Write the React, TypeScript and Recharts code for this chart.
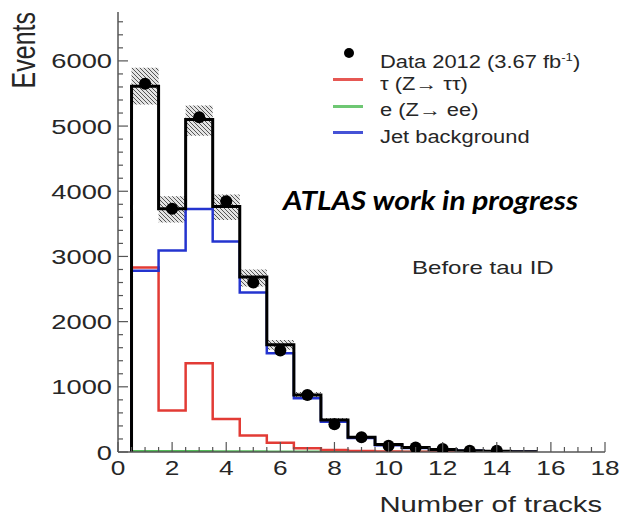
import { ComposedChart, Line, Area, Scatter, XAxis, YAxis, Legend, Label } from 'recharts';

// bins of width 1 centred on 1 … 15, listed by their low edge
const binLow = [0.5, 1.5, 2.5, 3.5, 4.5, 5.5, 6.5, 7.5, 8.5, 9.5, 10.5, 11.5, 12.5, 13.5, 14.5];
const binClose = 15.5;

const totalMC = [5611, 3733, 5100, 3768, 2683, 1644, 875, 490, 228, 115, 68, 40, 20, 10, 4];
const tauZtt = [2831, 635, 1362, 507, 255, 140, 57, 30, 14, 6, 3, 1, 0, 0, 0];
const eZee = [12, 10, 10, 8, 6, 4, 2, 1, 0, 0, 0, 0, 0, 0, 0];
const jetBkg = [2780, 3092, 3728, 3231, 2447, 1516, 825, 465, 215, 105, 62, 38, 19, 9, 4];
const bandLow = [5330, 3520, 4850, 3560, 2540, 1570, 830, 460, 212, 104, 60, 34, 16, 7, 2];
const bandHigh = [5894, 3922, 5315, 3950, 2800, 1720, 920, 520, 245, 126, 76, 46, 24, 13, 6];

// data 2012
const dataX = [1, 2, 3, 4, 5, 6, 7, 8, 9, 10, 11, 12, 13, 14];
const dataY = [5648, 3730, 5135, 3845, 2601, 1556, 876, 425, 228, 97, 70, 45, 20, 18];

const xTicks = Array.from({ length: 37 }, (_, i) => i * 0.5);
const yTicks = Array.from({ length: 34 }, (_, i) => i * 200);

const FONT = '"Liberation Sans", Arial, sans-serif';
const INK = '#262626';
const FRAME = '#555';
const RED = '#e23b35';
const GREEN = '#55bd5a';
const BLUE = '#2434cf';

// histogram rows at bin edges, drawn as steps
const rows = [
  { x: binLow[0], total: 0, tau: 0, e: 0, jet: 0, band: null as number[] | null },
  ...binLow.map((x, i) => ({
    x,
    total: totalMC[i],
    tau: tauZtt[i],
    e: eZee[i],
    jet: jetBkg[i],
    band: [bandLow[i], bandHigh[i]],
  })),
  {
    x: binClose,
    total: totalMC[totalMC.length - 1],
    tau: tauZtt[tauZtt.length - 1],
    e: eZee[eZee.length - 1],
    jet: jetBkg[jetBkg.length - 1],
    band: [bandLow[bandLow.length - 1], bandHigh[bandHigh.length - 1]],
  },
];
const points = dataX.map((x, i) => ({ x, y: dataY[i] }));

const legendItems = [
  { name: 'data', kind: 'dot', color: '#000' },
  { name: 'tau', kind: 'line', color: RED },
  { name: 'e', kind: 'line', color: GREEN },
  { name: 'jet', kind: 'line', color: BLUE },
];
const legendText: Record<string, any> = {
  data: <>Data 2012 (3.67 fb<sup style={{ fontSize: '0.6em' }}>-1</sup>)</>,
  tau: 'τ (Z→ ττ)',
  e: 'e (Z→ ee)',
  jet: 'Jet background',
};

const BottomTick = ({ x, y, payload }: any) => {
  const v = payload.value;
  const major = v % 2 === 0;
  return (
    <g>
      <line x1={x} x2={x} y1={y} y2={y - (major ? 10 : 5)} stroke={FRAME} strokeWidth={1.2} />
      {major && (
        <text transform={`translate(${x},${y + 23}) scale(1.25,1)`} textAnchor="middle" fontSize={21} fill={INK} fontFamily={FONT}>
          {v}
        </text>
      )}
    </g>
  );
};

const TopTick = ({ x, y, payload }: any) => {
  const major = payload.value % 2 === 0;
  return <line x1={x} x2={x} y1={y} y2={y + (major ? 9 : 5)} stroke={FRAME} strokeWidth={1.2} />;
};

const LeftTick = ({ x, y, payload }: any) => {
  const v = payload.value;
  const major = v % 1000 === 0;
  return (
    <g>
      <line x1={x} x2={x + (major ? 10 : 5)} y1={y} y2={y} stroke={FRAME} strokeWidth={1.2} />
      {major && (
        <text transform={`translate(${x - 6},${y + 7.5}) scale(1.3,1)`} textAnchor="end" fontSize={21} fill={INK} fontFamily={FONT}>
          {v}
        </text>
      )}
    </g>
  );
};

const RightTick = ({ x, y, payload }: any) => {
  const major = payload.value % 1000 === 0;
  return <line x1={x} x2={x - (major ? 10 : 5)} y1={y} y2={y} stroke={FRAME} strokeWidth={1.2} />;
};

const EventsLabel = ({ viewBox }: any) => (
  <text transform={`translate(${viewBox.x + 35},${viewBox.y}) scale(1.3,1) rotate(-90)`} textAnchor="end" fontSize={25} fill={INK} fontFamily={FONT}>
    Events
  </text>
);

const TracksLabel = ({ viewBox }: any) => (
  <text transform={`translate(${viewBox.x + viewBox.width - 3},${viewBox.y + 60}) scale(1.3,1)`} textAnchor="end" fontSize={22.5} fill={INK} fontFamily={FONT}>
    Number of tracks
  </text>
);

const renderLegend = () => (
  <div style={{ fontFamily: FONT, fontSize: 17.5, color: INK }}>
    {legendItems.map((it) => (
      <div key={it.name} style={{ position: 'relative', height: 26.5, lineHeight: '26.5px', whiteSpace: 'nowrap' }}>
        {it.kind === 'dot' ? (
          <span style={{ position: 'absolute', left: 14, top: 4, width: 10, height: 10, borderRadius: 5, background: it.color }} />
        ) : (
          <span style={{ position: 'absolute', left: 3, top: 7.5, width: 30, height: 3, background: it.color, opacity: 0.85 }} />
        )}
        <span style={{ position: 'absolute', left: 50, top: 0, transform: 'scaleX(1.25)', transformOrigin: 'left' }}>
          {legendText[it.name]}
        </span>
      </div>
    ))}
  </div>
);

export default function App() {
  return (
    <div style={{ position: 'absolute', left: 0, top: 0, width: 621, height: 518, background: '#fff' }}>
      <ComposedChart width={621} height={518} data={rows} margin={{ top: 12, right: 16, bottom: 0, left: 0 }}>
        <defs>
          <pattern id="hatch" width="4" height="4" patternUnits="userSpaceOnUse">
            <rect width="4" height="4" fill="#e4e4e4" />
            <path d="M-1,-1 L5,5 M-1,3 L1,5 M3,-1 L5,1" stroke="#555" strokeWidth="1" />
          </pattern>
        </defs>
        <XAxis
          dataKey="x"
          type="number"
          domain={[0, 18]}
          allowDataOverflow
          ticks={xTicks}
          interval={0}
          tick={BottomTick}
          tickSize={0}
          tickMargin={0}
          tickLine={false}
          height={66}
          axisLine={{ stroke: FRAME, strokeWidth: 1.5 }}
        >
          <Label content={TracksLabel} />
        </XAxis>
        <XAxis
          xAxisId="top"
          orientation="top"
          type="number"
          domain={[0, 18]}
          allowDataOverflow
          ticks={xTicks}
          interval={0}
          tick={TopTick}
          tickSize={0}
          tickMargin={0}
          tickLine={false}
          height={0}
          axisLine={{ stroke: FRAME, strokeWidth: 1.5 }}
        />
        <YAxis
          type="number"
          domain={[0, 6750]}
          allowDataOverflow
          ticks={yTicks}
          interval={0}
          tick={LeftTick}
          tickSize={0}
          tickMargin={0}
          tickLine={false}
          width={118}
          axisLine={{ stroke: FRAME, strokeWidth: 1.5 }}
        >
          <Label content={EventsLabel} />
        </YAxis>
        <YAxis
          yAxisId="right"
          orientation="right"
          type="number"
          domain={[0, 6750]}
          allowDataOverflow
          ticks={yTicks}
          interval={0}
          tick={RightTick}
          tickSize={0}
          tickMargin={0}
          tickLine={false}
          width={0}
          axisLine={{ stroke: FRAME, strokeWidth: 1.5 }}
        />
        <Legend
          layout="vertical"
          align="center"
          verticalAlign="middle"
          content={renderLegend}
          wrapperStyle={{ left: 330, top: 44, width: 280 }}
        />
        <Line dataKey="e" type="stepAfter" stroke={GREEN} strokeWidth={2.5} dot={false} activeDot={false} isAnimationActive={false} />
        <Line dataKey="tau" type="stepAfter" stroke={RED} strokeWidth={2.5} dot={false} activeDot={false} isAnimationActive={false} />
        <Line dataKey="jet" type="stepAfter" stroke={BLUE} strokeWidth={2.5} dot={false} activeDot={false} isAnimationActive={false} />
        <Area dataKey="band" type="stepAfter" stroke="none" fill="url(#hatch)" fillOpacity={1} legendType="none" isAnimationActive={false} activeDot={false} />
        <Line dataKey="total" type="stepAfter" stroke="#000" strokeWidth={3} dot={false} activeDot={false} isAnimationActive={false} />
        <Scatter
          data={points}
          dataKey="y"
          isAnimationActive={false}
          shape={(p: any) => <circle cx={p.cx} cy={p.cy} r={6} fill="#000" />}
        />
      </ComposedChart>
      <div
        style={{
          position: 'absolute',
          left: 283,
          top: 187,
          fontFamily: 'Lato, sans-serif',
          fontStyle: 'italic',
          fontWeight: 700,
          fontSize: 26,
          lineHeight: 1,
          color: '#000',
          whiteSpace: 'nowrap',
          transform: 'scaleX(1.15)',
          transformOrigin: 'left',
        }}
      >
        ATLAS work in progress
      </div>
      <div
        style={{
          position: 'absolute',
          left: 412,
          top: 259,
          fontFamily: FONT,
          fontSize: 18.5,
          lineHeight: 1,
          color: INK,
          whiteSpace: 'nowrap',
          transform: 'scaleX(1.3)',
          transformOrigin: 'left',
        }}
      >
        Before tau ID
      </div>
    </div>
  );
}
